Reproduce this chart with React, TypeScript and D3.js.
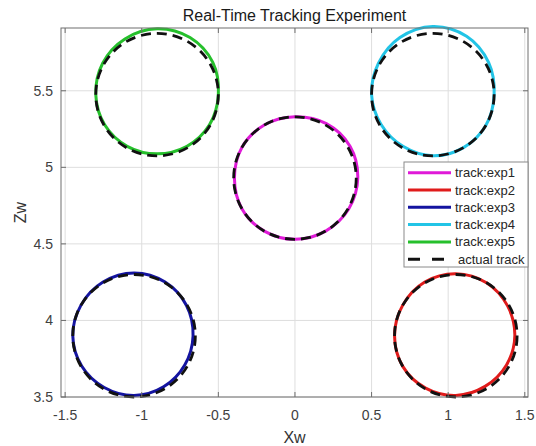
import React, { useRef, useEffect } from "react";
import * as d3 from "d3";

// axis ticks
const xTicks = [-1.5, -1, -0.5, 0, 0.5, 1, 1.5];
const zTicks = [3.5, 4, 4.5, 5, 5.5];

// legend / series
const trackNames = ["track:exp1", "track:exp2", "track:exp3", "track:exp4", "track:exp5"];
const trackColors = ["#e01ad8", "#e01b1b", "#1414a0", "#22c4e6", "#26c02c"];
const actualName = "actual track";

// actual (reference) circles: centre and radius
const refX = [0, 1.05, -1.05, 0.9, -0.9];
const refZ = [4.93, 3.9, 3.9, 5.475, 5.475];
const refR = [0.4, 0.4, 0.4, 0.4, 0.4];

// measured track radius around each centre, sampled every 30 degrees (0 = right, ccw)
const sampleAngles = [0, 30, 60, 90, 120, 150, 180, 210, 240, 270, 300, 330];
const trackR1 = [0.41, 0.415, 0.41, 0.4, 0.4, 0.4, 0.395, 0.4, 0.4, 0.4, 0.4, 0.405];
const trackR2 = [0.385, 0.39, 0.4, 0.405, 0.405, 0.4, 0.4, 0.4, 0.395, 0.39, 0.382, 0.382];
const trackR3 = [0.385, 0.395, 0.405, 0.41, 0.405, 0.4, 0.4, 0.395, 0.39, 0.39, 0.385, 0.382];
const trackR4 = [0.4, 0.42, 0.44, 0.445, 0.43, 0.41, 0.4, 0.39, 0.39, 0.4, 0.4, 0.4];
const trackR5 = [0.4, 0.42, 0.43, 0.43, 0.42, 0.41, 0.4, 0.395, 0.39, 0.387, 0.39, 0.395];
const trackRadii = [trackR1, trackR2, trackR3, trackR4, trackR5];

const App = () => {
  const svgRef = useRef<SVGSVGElement | null>(null);

  useEffect(() => {
    const width = 536;
    const height = 446;
    const left = 61, right = 528, top = 28, bottom = 397;

    const x = d3.scaleLinear().domain([-1.527, 1.521]).range([left, right]);
    const y = d3.scaleLinear().domain([3.5, 5.91]).range([bottom, top]);

    const svg = d3.select(svgRef.current);
    svg.selectAll("*").remove();
    svg.attr("width", width).attr("height", height);

    svg.append("rect").attr("width", width).attr("height", height).attr("fill", "#fff");

    const font = "'Liberation Sans', Arial, Helvetica, sans-serif";

    // grid
    svg.append("g").selectAll("line").data(xTicks).enter().append("line")
      .attr("x1", d => x(d)).attr("x2", d => x(d))
      .attr("y1", top).attr("y2", bottom)
      .attr("stroke", "#dedede").attr("stroke-width", 1);
    svg.append("g").selectAll("line").data(zTicks).enter().append("line")
      .attr("y1", d => y(d)).attr("y2", d => y(d))
      .attr("x1", left).attr("x2", right)
      .attr("stroke", "#dedede").attr("stroke-width", 1);

    // tracks
    const trackLine = d3.line().curve(d3.curveCatmullRomClosed);
    trackRadii.forEach((radii, i) => {
      const pts = sampleAngles.map((a, k) => {
        const t = (a * Math.PI) / 180;
        return [x(refX[i] + radii[k] * Math.cos(t)), y(refZ[i] + radii[k] * Math.sin(t))] as [number, number];
      });
      svg.append("path")
        .attr("d", trackLine(pts))
        .attr("fill", "none")
        .attr("stroke", trackColors[i])
        .attr("stroke-width", 3);
    });

    // actual track (dashed)
    svg.append("g").selectAll("ellipse").data(refX).enter().append("ellipse")
      .attr("cx", (d) => x(d))
      .attr("cy", (_d, i) => y(refZ[i]))
      .attr("rx", (d, i) => x(d + refR[i]) - x(d))
      .attr("ry", (_d, i) => y(refZ[i]) - y(refZ[i] + refR[i]))
      .attr("fill", "none")
      .attr("stroke", "#111")
      .attr("stroke-width", 2.8)
      .attr("stroke-dasharray", "10,6");

    // axes box
    svg.append("rect")
      .attr("x", left).attr("y", top)
      .attr("width", right - left).attr("height", bottom - top)
      .attr("fill", "none").attr("stroke", "#6e6e6e").attr("stroke-width", 1);

    // inward ticks
    const tl = 5;
    xTicks.forEach(t => {
      svg.append("line").attr("x1", x(t)).attr("x2", x(t)).attr("y1", bottom).attr("y2", bottom - tl).attr("stroke", "#6e6e6e");
      svg.append("line").attr("x1", x(t)).attr("x2", x(t)).attr("y1", top).attr("y2", top + tl).attr("stroke", "#6e6e6e");
    });
    zTicks.forEach(t => {
      svg.append("line").attr("y1", y(t)).attr("y2", y(t)).attr("x1", left).attr("x2", left + tl).attr("stroke", "#6e6e6e");
      svg.append("line").attr("y1", y(t)).attr("y2", y(t)).attr("x1", right).attr("x2", right - tl).attr("stroke", "#6e6e6e");
    });

    // tick labels
    svg.append("g").selectAll("text").data(xTicks).enter().append("text")
      .attr("x", d => x(d)).attr("y", 420)
      .attr("text-anchor", "middle")
      .attr("font-family", font).attr("font-size", 14).attr("fill", "#404040")
      .text(d => String(d));
    svg.append("g").selectAll("text").data(zTicks).enter().append("text")
      .attr("x", 53).attr("y", d => y(d) + 5)
      .attr("text-anchor", "end")
      .attr("font-family", font).attr("font-size", 14).attr("fill", "#404040")
      .text(d => String(d));

    // axis labels and title
    svg.append("text")
      .attr("x", (left + right) / 2).attr("y", 443)
      .attr("text-anchor", "middle")
      .attr("font-family", font).attr("font-size", 16).attr("fill", "#333")
      .text("Xw");
    svg.append("text")
      .attr("transform", `translate(26, ${(top + bottom) / 2}) rotate(-90)`)
      .attr("text-anchor", "middle")
      .attr("font-family", font).attr("font-size", 16).attr("fill", "#333")
      .text("Zw");
    svg.append("text")
      .attr("x", (left + right) / 2).attr("y", 21)
      .attr("text-anchor", "middle")
      .attr("font-family", font).attr("font-size", 16).attr("fill", "#1a1a1a")
      .text("Real-Time Tracking Experiment");

    // legend
    const lg = svg.append("g");
    const lx = 404, ly = 162, lw = right - lx, lh = 105;
    lg.append("rect").attr("x", lx).attr("y", ly).attr("width", lw).attr("height", lh)
      .attr("fill", "#fff").attr("stroke", "#8a8a8a").attr("stroke-width", 1);
    const entries = [...trackNames, actualName];
    entries.forEach((name, i) => {
      const ey = 172.7 + i * 17.3;
      const isActual = i === trackNames.length;
      lg.append("line")
        .attr("x1", 408).attr("x2", 451).attr("y1", ey).attr("y2", ey)
        .attr("stroke", isActual ? "#111" : trackColors[i])
        .attr("stroke-width", 3)
        .attr("stroke-dasharray", isActual ? "12,12" : null);
      lg.append("text")
        .attr("x", isActual ? 458 : 455).attr("y", ey + 4.5)
        .attr("font-family", font).attr("font-size", 13).attr("fill", "#262626")
        .text(name);
    });
  }, []);

  return (
    <div style={{ position: "absolute", left: 0, top: 0 }}>
      <svg ref={svgRef} style={{ display: "block" }}></svg>
    </div>
  );
};

export default App;
